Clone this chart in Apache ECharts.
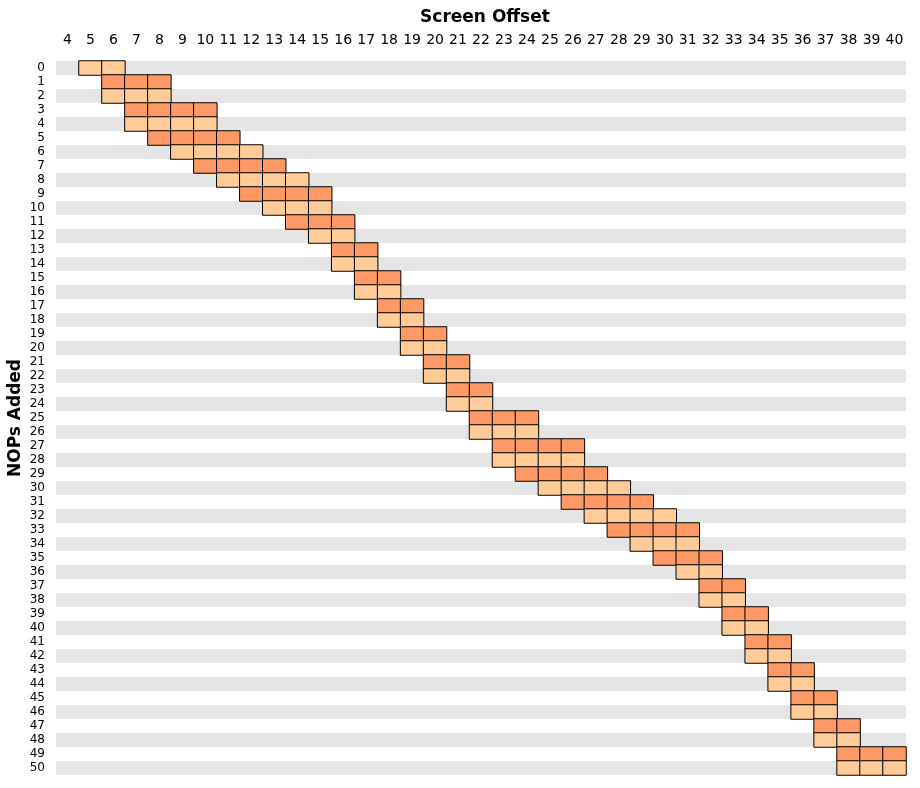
<!DOCTYPE html>
<html>
<head>
<meta charset="utf-8">
<script src="https://cdn.jsdelivr.net/npm/echarts@6/dist/echarts.min.js"></script>
<style>html,body{margin:0;padding:0;background:#fff}#c{width:920px;height:788px}</style>
</head>
<body>
<div id="c"></div>
<script>
// Screen offset categories (x) and NOPs added (y)
var xCats = [4,5,6,7,8,9,10,11,12,13,14,15,16,17,18,19,20,21,22,23,24,25,26,27,28,29,30,31,32,33,34,35,36,37,38,39,40];
var yCats = [0,1,2,3,4,5,6,7,8,9,10,11,12,13,14,15,16,17,18,19,20,21,22,23,24,25,26,27,28,29,30,31,32,33,34,35,36,37,38,39,40,41,42,43,44,45,46,47,48,49,50];
// first and last screen offset covered in each row
var rowStart = [5,6,6,7,7,8,9,10,11,12,13,14,15,16,16,17,17,18,18,19,19,20,20,21,21,22,22,23,23,24,25,26,27,28,29,30,31,32,32,33,33,34,34,35,35,36,36,37,37,38,38];
var rowEnd   = [6,8,8,10,10,11,12,13,14,15,15,16,16,17,17,18,18,19,19,20,20,21,21,22,22,24,24,26,26,27,28,29,30,31,31,32,32,33,33,34,34,35,35,36,36,37,37,38,38,40,40];
// shade per row: 0 = light, 1 = dark
var rowShade = [0,1,0,1,0,1,0,1,0,1,0,1,0,1,0,1,0,1,0,1,0,1,0,1,0,1,0,1,0,1,0,1,0,1,0,1,0,1,0,1,0,1,0,1,0,1,0,1,0,1,0];

var data = [];
for (var r = 0; r < yCats.length; r++) {
  for (var x = rowStart[r]; x <= rowEnd[r]; x++) {
    data.push([xCats.indexOf(x), r, rowShade[r]]);
  }
}

var chart = echarts.init(document.getElementById('c'));
var font = 'DejaVu Sans';
chart.setOption({
  animation: false,
  backgroundColor: '#fff',
  title: {
    text: 'Screen Offset',
    left: 480, top: 4, textAlign: 'center',
    textStyle: { fontFamily: font, fontSize: 17, fontWeight: 'bold', color: '#000' }
  },
  grid: { left: 56, right: 14, top: 61, bottom: 13, containLabel: false, outerBoundsMode: 'none' },
  xAxis: {
    type: 'category', position: 'top', data: xCats.map(String),
    axisLine: { show: false }, axisTick: { show: false },
    axisLabel: { fontFamily: font, fontSize: 14, color: '#000', margin: 14, interval: 0 },
    splitLine: { show: false }
  },
  yAxis: {
    type: 'category', inverse: true, data: yCats.map(String),
    name: 'NOPs Added', nameLocation: 'middle', nameRotate: 90, nameGap: 32,
    nameMoveOverlap: false,
    nameTextStyle: { fontFamily: font, fontSize: 17, fontWeight: 'bold', color: '#000' },
    axisLine: { show: false }, axisTick: { show: false },
    axisLabel: { fontFamily: font, fontSize: 12, color: '#000', margin: 11, interval: 0 },
    splitArea: { show: true, interval: 0, areaStyle: { color: ['#e5e5e5', '#ffffff'] } },
    splitLine: { show: false }
  },
  visualMap: {
    show: false, type: 'piecewise', dimension: 2,
    pieces: [ { value: 0, color: '#ffcc99' }, { value: 1, color: '#ff9966' } ]
  },
  series: [{
    type: 'heatmap', data: data,
    itemStyle: { borderColor: '#000', borderWidth: 1 },
    emphasis: { disabled: true }
  }]
});
</script>
</body>
</html>
